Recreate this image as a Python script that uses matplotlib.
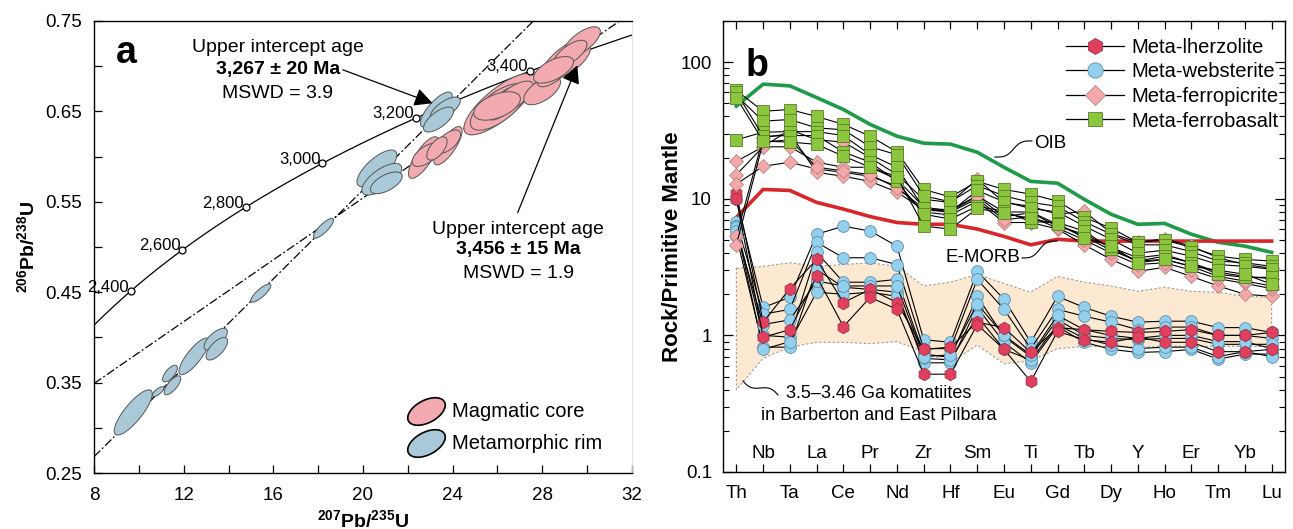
import numpy as np
import matplotlib
matplotlib.use('Agg')
import matplotlib.pyplot as plt
import matplotlib.transforms as mtransforms
from matplotlib.lines import Line2D
from matplotlib.path import Path

plt.rcParams['font.family'] = ['Liberation Sans', 'DejaVu Sans']
plt.rcParams['mathtext.fontset'] = 'custom'
plt.rcParams['mathtext.rm'] = 'Liberation Sans'
plt.rcParams['mathtext.bf'] = 'Liberation Sans:bold'

#%% Datos panel a (U-Pb)
# constantes de decaimiento (para la concordia)
lam238 = 1.55125e-10
lam235 = 9.8485e-10
conc_ages = [2400, 2600, 2800, 3000, 3200, 3400]
conc_labels = ['2,400', '2,600', '2,800', '3,000', '3,200', '3,400']

# discordias (extremos leidos)
disc1_x = [8, 27.6]
disc1_y = [0.268, 0.75]
disc2_x = [8, 32.5]
disc2_y = [0.349, 0.768]

# elipses: centro x, semiancho x, centro y, semiancho y, rho
rim_x = [9.75, 10.86, 11.39, 11.50, 12.46, 13.43, 13.48, 15.44, 18.24, 20.62, 20.84, 21.04, 23.27, 23.67, 23.37]
rim_sx = [0.85, 0.26, 0.33, 0.37, 0.67, 0.52, 0.48, 0.45, 0.45, 0.89, 0.89, 0.71, 0.71, 0.67, 0.67]
rim_y = [0.317, 0.340, 0.360, 0.347, 0.379, 0.398, 0.3875, 0.449, 0.5207, 0.587, 0.575, 0.571, 0.652, 0.653, 0.641]
rim_sy = [0.025, 0.0055, 0.0092, 0.0105, 0.0203, 0.012, 0.0125, 0.0101, 0.011, 0.0203, 0.0175, 0.012, 0.0194, 0.0129, 0.0138]
rim_rho = [0.82, 0.75, 0.68, 0.73, 0.82, 0.67, 0.67, 0.83, 0.83, 0.73, 0.68, 0.6, 0.77, 0.68, 0.68]

core_x = [22.70, 22.82, 23.79, 23.79, 23.30, 26.10, 26.05, 26.27, 26.72, 25.98, 27.99, 28.80, 29.17, 29.77, 29.25, 28.50]
core_sx = [0.67, 0.63, 0.63, 0.56, 0.45, 1.60, 1.26, 0.74, 0.89, 1.04, 0.82, 1.04, 0.97, 0.82, 0.74, 0.89]
core_y = [0.599, 0.602, 0.612, 0.6165, 0.609, 0.658, 0.655, 0.659, 0.666, 0.656, 0.673, 0.703, 0.706, 0.727, 0.714, 0.696]
core_sy = [0.023, 0.0129, 0.0212, 0.0129, 0.0129, 0.034, 0.0258, 0.0184, 0.0175, 0.0157, 0.0157, 0.0258, 0.0194, 0.0166, 0.0147, 0.0147]
core_rho = [0.77, 0.6, 0.77, 0.6, 0.6, 0.78, 0.68, 0.68, 0.68, 0.5, 0.6, 0.77, 0.68, 0.68, 0.68, 0.6]

#%% Datos panel b (spider)
elements = ['Th', 'Nb', 'Ta', 'La', 'Ce', 'Pr', 'Nd', 'Zr', 'Hf', 'Sm', 'Eu',
            'Ti', 'Gd', 'Tb', 'Dy', 'Y', 'Ho', 'Er', 'Tm', 'Yb', 'Lu']

oib = [47.6, 69, 67, 55, 45, 35, 28.7, 25.5, 25.1, 21.9, 17, 13.4, 13, 9.9, 7.7, 6.5, 6.6, 5.5, 4.8, 4.5, 4.05]
emorb = [7.3, 11.7, 11.5, 9.4, 8.4, 7.4, 6.7, 6.5, 6.5, 6.0, 5.3, 4.6, 5.05, 4.9, 4.9, 4.9, 4.9, 4.9, 4.9, 4.9, 4.9]
komat_hi = [3.1, 3.2, 3.4, 3.2, 3.3, 3.4, 3.2, 2.3, 2.45, 2.8, 2.4, 2.07, 2.7, 2.45, 2.3, 2.1, 2.25, 2.1, 2.07, 1.93, 1.9]
komat_lo = [0.40, 0.68, 0.82, 0.89, 0.89, 0.87, 0.90, 0.76, 0.63, 0.85, 0.62, 0.65, 0.80, 0.83, 0.83, 0.82, 0.83, 0.83, 0.83, 0.83, 0.83]

lherz = [
    [11, 1.25, 2.2, 3.6, 1.74, 2.17, 1.74, 0.79, 0.82, 1.25, 1.14, 0.75, 1.14, 1.1, 1.07, 1.05, 1.07, 1.1, 1.0, 1.0, 1.05],
    [10, 0.97, 1.1, 2.7, 1.16, 1.9, 1.55, 0.52, 0.52, 1.2, 0.79, 0.46, 1.07, 0.93, 0.89, 0.97, 0.89, 0.89, 0.76, 0.76, 0.79],
]
webst = [
    [9.9, 1.6, 1.9, 5.5, 6.3, 5.8, 4.5, 0.93, 0.89, 2.94, 1.84, 0.89, 1.93, 1.6, 1.38, 1.25, 1.27, 1.27, 1.14, 1.14, 1.05],
    [6.8, 1.43, 1.55, 4.8, 3.7, 3.7, 3.3, 0.80, 0.80, 2.57, 1.55, 0.80, 1.55, 1.38, 1.25, 1.1, 1.15, 1.15, 1.0, 1.0, 0.95],
    [6.3, 1.0, 0.97, 4.05, 2.45, 2.45, 2.57, 0.73, 0.69, 1.93, 0.98, 0.70, 1.31, 1.0, 0.95, 0.93, 0.95, 0.95, 0.86, 0.86, 0.86],
    [5.3, 0.82, 0.82, 3.04, 2.25, 2.17, 2.07, 0.63, 0.63, 1.6, 0.89, 0.63, 1.16, 0.89, 0.79, 0.75, 0.76, 0.79, 0.67, 0.73, 0.73],
    [6.2, 0.79, 0.9, 2.07, 2.0, 2.07, 1.93, 0.68, 0.66, 1.38, 0.79, 0.66, 1.2, 0.95, 0.85, 0.8, 0.82, 0.82, 0.70, 0.76, 0.70],
    [5.8, 1.2, 1.3, 2.5, 2.3, 2.3, 2.3, 0.70, 0.72, 1.7, 1.0, 0.72, 1.4, 1.1, 1.0, 0.95, 1.0, 1.0, 0.9, 0.9, 0.8],
]
picr = [
    [18.8, 24, 32, 27, 26, 20, 15, 9.9, 9.4, 13.9, 9.4, 8.8, 7.7, 8.1, 5.6, 4.8, 5.1, 4.5, 3.7, 3.3, 3.1],
    [15, 24, 24, 18.5, 17, 17, 13.9, 8.7, 8.1, 10.4, 7.4, 7.9, 6.3, 5.5, 4.4, 3.7, 3.9, 3.4, 2.9, 2.7, 2.6],
    [12.8, 17.3, 18.5, 16.5, 15.6, 14.6, 12.4, 8.0, 7.6, 9.6, 6.7, 6.7, 6.0, 4.6, 3.6, 2.94, 3.15, 2.7, 2.3, 2.0, 1.93],
    [5.3, 28, 30, 15.6, 14.6, 13.4, 11.2, 8.3, 8.0, 10, 7.0, 7.4, 6.1, 5.0, 4.0, 3.3, 3.4, 3.0, 2.6, 2.4, 2.2],
    [4.6, 26, 27, 17, 16, 15, 12, 8.5, 8.3, 10.5, 8.0, 8.0, 6.5, 5.3, 4.2, 3.5, 3.6, 3.2, 2.7, 2.5, 2.3],
]
basalt = [
    [62, 43.7, 45, 40, 35, 28.7, 22, 11.7, 10.3, 13.4, 11.7, 10.8, 9.6, 7.3, 6.1, 4.8, 5.0, 4.4, 3.8, 3.6, 3.5],
    [57, 37, 38, 33, 32, 24, 21, 10.5, 9.5, 12.5, 10.5, 9.4, 8.8, 6.8, 5.5, 4.6, 4.6, 4.1, 3.5, 3.4, 3.2],
    [27, 30.7, 31, 31, 29, 21, 17, 8.5, 8.0, 11.5, 9.5, 8.5, 8.0, 6.3, 5.05, 4.0, 4.2, 3.8, 3.3, 3.2, 3.05],
    [60, 28.7, 29, 29, 22, 18.5, 13.4, 7.7, 7.1, 8.8, 8.1, 6.8, 6.7, 5.8, 4.3, 3.5, 3.8, 3.4, 2.8, 2.66, 2.66],
    [55, 26.4, 26, 25, 20.5, 17, 14.5, 6.3, 6.0, 8.5, 7.8, 7.2, 6.5, 5.2, 4.5, 3.4, 3.6, 3.2, 3.0, 2.8, 2.37],
]

#%% Figura
W, H = 1293, 529
fig = plt.figure(figsize=(W / 100, H / 100), dpi=100)
axa = fig.add_axes([94 / W, 1 - 473 / H, (632 - 94) / W, (473 - 21) / H])
axb = fig.add_axes([723 / W, 1 - 472 / H, (1285 - 723) / W, (472 - 21) / H])


def px(x, y):
    # pixel -> fraccion de figura
    return x / W, 1 - y / H


def squiggle(p0, p1, amp=3.0):
    p0 = np.array(p0, float)
    p1 = np.array(p1, float)
    d = p1 - p0
    L = np.hypot(*d)
    n = np.array([-d[1], d[0]]) / L
    s = np.linspace(0, 1, 60)
    pts = p0 + np.outer(s, d) + np.outer(amp * np.sin(2 * np.pi * s), n)
    fig.add_artist(Line2D(pts[:, 0] / W, 1 - pts[:, 1] / H, transform=fig.transFigure,
                          color='k', lw=0.8))


def ellipse(ax, cx, sx, cy, sy, rho, fc):
    t = np.linspace(0, 2 * np.pi, 80)
    ex = cx + sx * np.cos(t)
    ey = cy + sy * (rho * np.cos(t) + np.sqrt(1 - rho ** 2) * np.sin(t))
    ax.fill(ex, ey, facecolor=fc, edgecolor='#555555', lw=0.7, zorder=3)


#%% Panel a
pink = '#f2a9b0'
blue = '#a9c8d8'
axa.set_xlim(8, 32)
axa.set_ylim(0.25, 0.75)

t = np.linspace(2.0e9, 3.7e9, 300)
axa.plot(np.exp(lam235 * t) - 1, np.exp(lam238 * t) - 1, color='k', lw=0.9, zorder=2)

axa.plot(disc1_x, disc1_y, color='k', lw=0.9, dashes=(7, 2, 1.5, 2), zorder=2)
axa.plot(disc2_x, disc2_y, color='k', lw=0.9, dashes=(7, 2, 1.5, 2), zorder=2)

for i in range(len(rim_x)):
    ellipse(axa, rim_x[i], rim_sx[i], rim_y[i], rim_sy[i], rim_rho[i], blue)
for i in range(len(core_x)):
    ellipse(axa, core_x[i], core_sx[i], core_y[i], core_sy[i], core_rho[i], pink)

ages = np.array(conc_ages) * 1e6
mx = np.exp(lam235 * ages) - 1
my = np.exp(lam238 * ages) - 1
axa.plot(mx, my, 'o', mfc='white', mec='k', ms=5, mew=0.9, zorder=5)
for xx, yy, lab in zip(mx, my, conc_labels):
    axa.annotate(lab, (xx, yy), xytext=(-1.5, 3), textcoords='offset points',
                 ha='right', va='center', fontsize=12)

axa.text(16.2, 0.721, 'Upper intercept age', ha='center', va='center', fontsize=14)
axa.text(16.2, 0.696, '3,267 ± 20 Ma', ha='center', va='center', fontsize=14, fontweight='bold')
axa.text(16.2, 0.670, 'MSWD = 3.9', ha='center', va='center', fontsize=14)
axa.annotate('', xy=(23.1, 0.659), xytext=(19.1, 0.696),
             arrowprops=dict(arrowstyle='-|>,head_length=0.55,head_width=0.28', color='k',
                             lw=0.9, shrinkA=0, shrinkB=0, mutation_scale=20), zorder=6)

axa.text(26.93, 0.519, 'Upper intercept age', ha='center', va='center', fontsize=14)
axa.text(26.93, 0.497, '3,456 ± 15 Ma', ha='center', va='center', fontsize=14, fontweight='bold')
axa.text(26.93, 0.471, 'MSWD = 1.9', ha='center', va='center', fontsize=14)
axa.annotate('', xy=(29.56, 0.701), xytext=(26.9, 0.538),
             arrowprops=dict(arrowstyle='-|>,head_length=0.55,head_width=0.28', color='k',
                             lw=0.9, shrinkA=0, shrinkB=0, mutation_scale=20), zorder=6)

# leyenda con elipses
te = np.linspace(0, 2 * np.pi, 60)
ex, ey = np.cos(te), 0.55 * np.sin(te)
ang = np.deg2rad(28)
ell_path = Path(np.column_stack([ex * np.cos(ang) - ey * np.sin(ang),
                                 ex * np.sin(ang) + ey * np.cos(ang)]))
for yy, fc, lab in [(0.137, pink, 'Magmatic core'), (0.066, blue, 'Metamorphic rim')]:
    axa.plot([0.617], [yy], marker=ell_path, ms=27, mfc=fc, mec='k', mew=1.2,
             ls='', transform=axa.transAxes, zorder=6)
    axa.text(0.665, yy, lab, transform=axa.transAxes, ha='left', va='center', fontsize=14.5)

axa.text(0.06, 0.93, 'a', transform=axa.transAxes, fontsize=27, fontweight='bold',
         ha='center', va='center')

axa.set_xticks(np.arange(8, 33, 4))
axa.set_xticks(np.arange(10, 32, 4), minor=True)
yt = np.round(np.arange(0.25, 0.751, 0.05), 2)
axa.set_yticks(yt)
axa.set_yticklabels(['%.2f' % v if i % 2 == 0 else '' for i, v in enumerate(yt)])
axa.tick_params(axis='both', which='both', direction='in', length=5.5, width=0.9,
                labelsize=13.5)
axa.tick_params(axis='x', pad=10)
axa.tick_params(axis='y', pad=8.5)
axa.spines['right'].set_color('#dddddd')
axa.spines['right'].set_linewidth(0.6)
for s in ['top', 'left', 'bottom']:
    axa.spines[s].set_linewidth(1.0)
axa.set_xlabel(r'$\mathbf{^{207}Pb/^{235}U}$', fontsize=14, labelpad=4)
axa.set_ylabel(r'$\mathbf{^{206}Pb/^{238}U}$', fontsize=14)
axa.yaxis.set_label_coords(-0.104, 0.5)

#%% Panel b
x = np.arange(len(elements))
axb.set_yscale('log')
axb.set_ylim(0.1, 200)
axb.set_xlim(-0.5, 20.5)

axb.fill_between(x, komat_lo, komat_hi, facecolor='#fde9d1', edgecolor='none', zorder=0)
band = np.concatenate([komat_hi, komat_lo[::-1], komat_hi[:1]])
bx = np.concatenate([x, x[::-1], x[:1]])
axb.plot(bx, band, color='#999999', lw=0.8, ls=(0, (2, 2)), zorder=1)

axb.plot(x, oib, color='#1f9a48', lw=2.6, zorder=2)
axb.plot(x, emorb, color='#d8262a', lw=2.6, zorder=2)

styles = [
    (webst, 'o', 8.5, '#92d0ee', '#5f8fa8', 'Meta-websterite'),
    (lherz, 'h', 9, '#e0405e', '#9c3446', 'Meta-lherzolite'),
    (picr, 'D', 7.5, '#f3a9a9', '#b98282', 'Meta-ferropicrite'),
    (basalt, 's', 8, '#8cc63f', '#5b7d2b', 'Meta-ferrobasalt'),
]
for rows, mk, ms, fc, ec, lab in styles:
    for row in rows:
        axb.plot(x, row, color='k', lw=0.8, marker=mk, ms=ms, mfc=fc, mec=ec, mew=0.6, zorder=3)

order = [1, 0, 2, 3]
handles = []
labels = []
for k in order:
    rows, mk, ms, fc, ec, lab = styles[k]
    handles.append(Line2D([0], [0], color='k', lw=0.9, marker=mk, ms=ms + 2.5, mfc=fc, mec=ec, mew=0.6))
    labels.append(lab)
axb.legend(handles, labels, loc='upper right', bbox_to_anchor=(1.01, 0.99), frameon=False,
           fontsize=14.5, handlelength=2.9, handletextpad=0.35, labelspacing=0.28,
           borderaxespad=0.2)

axb.set_xticks(x)
axb.set_xticklabels([e if i % 2 == 0 else '' for i, e in enumerate(elements)])
trans = mtransforms.blended_transform_factory(axb.transData, axb.transAxes)
for i, e in enumerate(elements):
    if i % 2 == 1:
        axb.text(i, 0.042, e, transform=trans, ha='center', va='center', fontsize=13.5)
axb.tick_params(axis='x', direction='in', top=True, bottom=True, length=6, width=0.9,
                labelsize=13.5, pad=9)
axb.set_yticks([0.1, 1, 10, 100])
axb.set_yticklabels(['0.1', '1', '10', '100'])
axb.tick_params(axis='y', which='both', direction='in', left=True, right=True,
                labelsize=13.5, pad=8)
axb.tick_params(axis='y', which='major', length=7, width=0.9)
axb.tick_params(axis='y', which='minor', length=4, width=0.8)
for s in axb.spines.values():
    s.set_linewidth(1.0)
axb.set_ylabel('Rock/Primitive Mantle', fontsize=16, fontweight='bold')
axb.yaxis.set_label_coords(-0.072, 0.5)

axb.text(0.06, 0.9, 'b', transform=axb.transAxes, fontsize=27, fontweight='bold',
         ha='center', va='center')

# etiquetas y lineas onduladas
fig.text(*px(1034, 143), 'OIB', ha='left', va='center', fontsize=13.5)
squiggle((995, 157), (1032, 141))
fig.text(*px(983, 258), 'E-MORB', ha='center', va='center', fontsize=13.5)
squiggle((1022, 258), (1057, 241))
fig.text(*px(879, 393), '3.5–3.46 Ga komatiites', ha='center', va='center', fontsize=13)
fig.text(*px(879, 415), 'in Barberton and East Pilbara', ha='center', va='center', fontsize=13)
squiggle((743, 381), (778, 395))

fig.savefig('out.png', dpi=100)
